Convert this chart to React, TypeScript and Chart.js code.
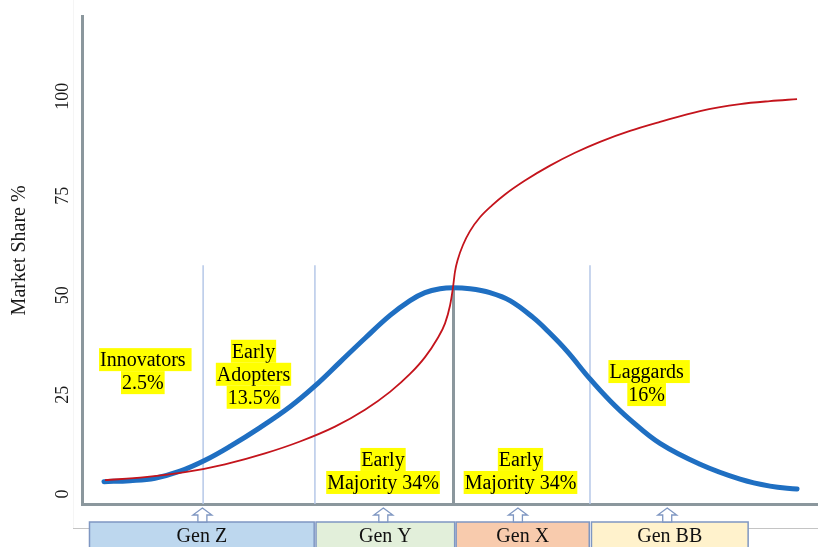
import { useEffect, useRef } from "react";
import { Chart, registerables } from "chart.js";

Chart.register(...registerables);

const FONT = '"Liberation Serif", "Times New Roman", Times, serif';

// Adoption (bell) curve
const blueX = [2.92, 6.46, 9.86, 13.26, 16.66, 20.05, 24.13, 28.21, 31.61, 35.01, 38.41, 41.81, 44.53, 46.57, 48.61, 50.37, 52.68, 55.4, 58.12, 61.25, 63.56, 65.87, 69.0, 71.72, 74.44, 78.52, 83.96, 89.4, 93.47, 97.15];
const blueY = [3.12, 3.37, 3.99, 5.74, 8.48, 11.97, 16.71, 21.95, 27.19, 33.18, 39.17, 44.91, 48.65, 50.65, 51.64, 51.89, 51.64, 50.65, 48.65, 44.41, 40.42, 35.93, 28.94, 23.45, 18.71, 12.72, 7.48, 3.74, 2.0, 1.25];

// Cumulative market share (S-curve)
const redX = [3.06, 8.5, 13.94, 19.37, 24.81, 29.57, 34.33, 38.41, 41.81, 44.53, 46.57, 48.2, 49.29, 49.97, 50.37, 50.64, 51.05, 51.73, 52.68, 54.04, 55.68, 57.44, 60.16, 63.56, 66.96, 70.36, 74.44, 78.52, 83.96, 89.4, 93.47, 97.15];
const redY = [3.49, 4.24, 5.49, 7.48, 10.23, 13.22, 16.96, 21.2, 25.7, 30.19, 34.43, 38.92, 42.91, 47.4, 51.89, 55.88, 59.12, 62.62, 66.11, 69.6, 72.6, 75.34, 78.84, 82.58, 85.82, 88.57, 91.31, 93.56, 96.3, 98.05, 98.8, 99.3];

const yTicks = [0, 25, 50, 75, 100];

// Segment dividers
const dividerX = [16.4, 31.6, 69.0];
const dividerTop = 57.5;
const peakX = 50.44;
const peakY = 51.89;

// Generations row
const genLabels = ["Gen Z", "Gen Y", "Gen X", "Gen BB"];
const genStart = [0.95, 31.75, 50.8, 69.2];
const genEnd = [31.5, 50.6, 68.9, 90.5];
const genArrowX = [16.3, 40.9, 59.2, 79.5];
const genFill = ["#bdd7ee", "#e2efda", "#f8cbad", "#fff2cc"];

// Segment labels
const segLines = [
  ["Innovators ", "2.5%"],
  ["Early", "Adopters", "13.5%"],
  ["Early", "Majority 34%"],
  ["Early", "Majority 34%"],
  ["Laggards ", "16%"],
];
const segX = [8.2, 23.25, 40.86, 59.55, 76.7];
const segY = [33.8, 35.9, 8.7, 8.7, 30.8];

const Y_MIN = -2.5;
const Y_MAX = 120;

const annotationPlugin = {
  id: "segLabels",
  afterDatasetsDraw(chart: any) {
    const { ctx, scales } = chart;
    const xs = scales.x;
    const ys = scales.y;
    ctx.save();
    ctx.font = `20px ${FONT}`;
    ctx.textBaseline = "middle";
    ctx.textAlign = "left";
    segLines.forEach((lines, k) => {
      const cx = xs.getPixelForValue(segX[k]);
      const cy0 = ys.getPixelForValue(segY[k]);
      lines.forEach((line, i) => {
        const cy = cy0 + i * 23;
        const wt = ctx.measureText(line.trimEnd()).width;
        const wf = ctx.measureText(line).width;
        const left = cx - wt / 2;
        ctx.fillStyle = "#ffff00";
        ctx.fillRect(left - 1, cy - 11.5, wf + 2, 23);
        ctx.fillStyle = "#000000";
        ctx.fillText(line, left, cy + 1);
      });
    });
    ctx.restore();
  },
};

const genPlugin = {
  id: "genRow",
  beforeDraw(chart: any) {
    const { ctx, scales } = chart;
    const xs = scales.x;
    ctx.save();
    ctx.strokeStyle = "#f5f5f5";
    ctx.lineWidth = 1;
    ctx.beginPath();
    ctx.moveTo(73.5, 0);
    ctx.lineTo(73.5, 528);
    ctx.stroke();
    ctx.strokeStyle = "#c4c4c4";
    ctx.beginPath();
    ctx.moveTo(73, 528.5);
    ctx.lineTo(xs.getPixelForValue(genStart[0]), 528.5);
    ctx.moveTo(xs.getPixelForValue(genEnd[3]), 528.5);
    ctx.lineTo(chart.width, 528.5);
    ctx.stroke();
    ctx.restore();
  },
  afterDraw(chart: any) {
    const { ctx, chartArea, scales } = chart;
    const xs = scales.x;
    const base = chartArea.bottom;
    const top = base + 18;
    const bottom = chart.height + 4;
    ctx.save();
    genLabels.forEach((lab, i) => {
      const l = xs.getPixelForValue(genStart[i]);
      const r = xs.getPixelForValue(genEnd[i]);
      ctx.fillStyle = genFill[i];
      ctx.fillRect(l, top, r - l, bottom - top);
      ctx.strokeStyle = "#7f97c2";
      ctx.lineWidth = 1.5;
      ctx.strokeRect(l, top, r - l, bottom - top);
      ctx.fillStyle = "#111111";
      ctx.font = `20px ${FONT}`;
      ctx.textAlign = "center";
      ctx.textBaseline = "middle";
      ctx.fillText(lab, (l + r) / 2, top + 15);

      const cx = xs.getPixelForValue(genArrowX[i]);
      const tip = base + 4;
      const hb = base + 11;
      ctx.beginPath();
      ctx.moveTo(cx, tip);
      ctx.lineTo(cx + 9.5, hb);
      ctx.lineTo(cx + 4.5, hb);
      ctx.lineTo(cx + 4.5, top);
      ctx.lineTo(cx - 4.5, top);
      ctx.lineTo(cx - 4.5, hb);
      ctx.lineTo(cx - 9.5, hb);
      ctx.closePath();
      ctx.fillStyle = "#ffffff";
      ctx.fill();
      ctx.strokeStyle = "#7f97c2";
      ctx.lineWidth = 1.3;
      ctx.stroke();
    });
    ctx.restore();
  },
};

export default function App() {
  const ref = useRef<HTMLCanvasElement>(null);

  useEffect(() => {
    if (!ref.current) return;
    const pts = (xs: number[], ys: number[]) => xs.map((x, i) => ({ x, y: ys[i] }));
    const datasets: any[] = [
      {
        label: "Market share",
        data: pts(redX, redY),
        borderColor: "#c4141c",
        borderWidth: 1.8,
        pointRadius: 0,
        cubicInterpolationMode: "monotone",
        fill: false,
      },
      {
        label: "Adopters",
        data: pts(blueX, blueY),
        borderColor: "#1f6fc2",
        borderWidth: 5,
        borderCapStyle: "round",
        pointRadius: 0,
        tension: 0.4,
        fill: false,
      },
      {
        label: "Peak",
        data: [
          { x: peakX, y: peakY },
          { x: peakX, y: Y_MIN },
        ],
        borderColor: "#8b979d",
        borderWidth: 3,
        pointRadius: 0,
        fill: false,
      },
      ...dividerX.map((x, i) => ({
        label: "Divider " + (i + 1),
        data: [
          { x, y: Y_MIN },
          { x, y: dividerTop },
        ],
        borderColor: "#b6c8e8",
        borderWidth: 1.5,
        pointRadius: 0,
        fill: false,
      })),
    ];

    const chart = new Chart(ref.current, {
      type: "line",
      data: { datasets },
      options: {
        animation: false,
        responsive: false,
        layout: { padding: { top: 13, right: 0, bottom: 0, left: 0 } },
        plugins: {
          legend: { display: false },
          tooltip: { enabled: false },
        },
        scales: {
          x: {
            type: "linear",
            min: 0,
            max: 100,
            ticks: { display: false },
            grid: { display: false, drawTicks: false },
            border: { display: true, color: "#8b979d", width: 3 },
            afterFit: (s: any) => {
              s.height = 43;
            },
          },
          y: {
            type: "linear",
            min: Y_MIN,
            max: Y_MAX,
            afterBuildTicks: (s: any) => {
              s.ticks = yTicks.map((v) => ({ value: v }));
            },
            ticks: {
              minRotation: 90,
              maxRotation: 90,
              autoSkip: false,
              crossAlign: "center",
              padding: 6,
              color: "#1a1a1a",
              font: { family: FONT, size: 18 },
            },
            grid: { display: false, drawTicks: false },
            border: { display: true, color: "#8b979d", width: 3 },
            title: {
              display: true,
              text: "    Market Share %",
              color: "#1a1a1a",
              font: { family: FONT, size: 20 },
              padding: { top: 8, bottom: 0 },
            },
            afterFit: (s: any) => {
              s.width = 82.5;
            },
          },
        },
      } as any,
      plugins: [annotationPlugin, genPlugin],
    });
    return () => chart.destroy();
  }, []);

  return (
    <div style={{ position: "absolute", left: 0, top: 0, width: 818, height: 547, background: "#ffffff" }}>
      <canvas ref={ref} width={818} height={547} style={{ display: "block" }} />
    </div>
  );
}
